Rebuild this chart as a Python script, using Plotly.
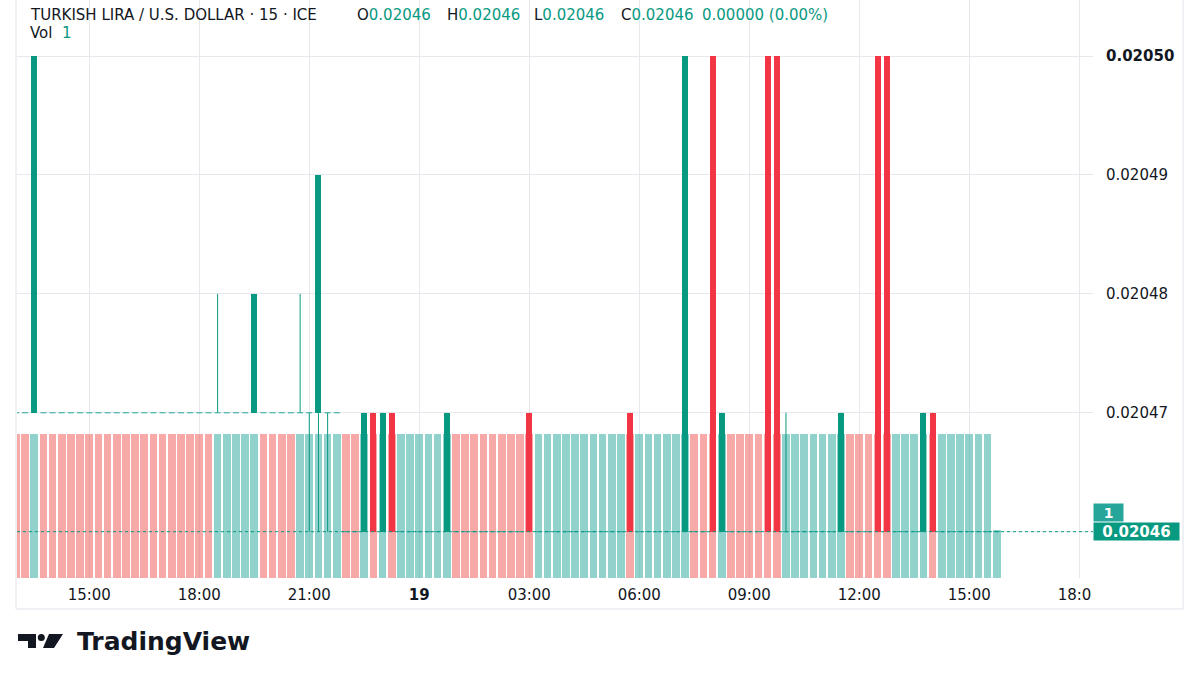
import plotly.graph_objects as go
import pandas as pd

# ---------------- data (15-minute bars, 18 Mar 13:00 -> 19 Mar 15:45) ----------------
start_time = "2024-03-18 13:00"
bar_count = 108

opens = [
    0.02047, 0.02047, 0.02047, 0.02047, 0.02047, 0.02047, 0.02047, 0.02047, 0.02047, 0.02047, 0.02047, 0.02047,  # 13:00-15:45
    0.02047, 0.02047, 0.02047, 0.02047, 0.02047, 0.02047, 0.02047, 0.02047, 0.02047, 0.02047, 0.02047, 0.02047,  # 16:00-18:45
    0.02047, 0.02047, 0.02047, 0.02047, 0.02047, 0.02047, 0.02047, 0.02047, 0.02047, 0.02047, 0.02047, 0.02047,  # 19:00-21:45
    0.02046, 0.02046, 0.02046, 0.02047, 0.02046, 0.02047, 0.02046, 0.02046, 0.02046, 0.02046, 0.02046, 0.02046,  # 22:00-00:45
    0.02046, 0.02046, 0.02046, 0.02046, 0.02046, 0.02046, 0.02046, 0.02046, 0.02047, 0.02046, 0.02046, 0.02046,  # 01:00-03:45
    0.02046, 0.02046, 0.02046, 0.02046, 0.02046, 0.02046, 0.02046, 0.02047, 0.02046, 0.02046, 0.02046, 0.02046,  # 04:00-06:45
    0.02046, 0.02046, 0.02046, 0.02046, 0.02050, 0.02046, 0.02046, 0.02046, 0.02046, 0.02046, 0.02050, 0.02050,  # 07:00-09:45
    0.02046, 0.02046, 0.02046, 0.02046, 0.02046, 0.02046, 0.02046, 0.02046, 0.02046, 0.02046, 0.02050, 0.02050,  # 10:00-12:45
    0.02046, 0.02046, 0.02046, 0.02046, 0.02047, 0.02046, 0.02046, 0.02046, 0.02046, 0.02046, 0.02046, 0.02046,  # 13:00-15:45
]
highs = [
    0.02047, 0.02047, 0.02050, 0.02047, 0.02047, 0.02047, 0.02047, 0.02047, 0.02047, 0.02047, 0.02047, 0.02047,
    0.02047, 0.02047, 0.02047, 0.02047, 0.02047, 0.02047, 0.02047, 0.02047, 0.02047, 0.02047, 0.02048, 0.02047,
    0.02047, 0.02047, 0.02048, 0.02047, 0.02047, 0.02047, 0.02047, 0.02048, 0.02047, 0.02049, 0.02047, 0.02047,
    0.02046, 0.02046, 0.02047, 0.02047, 0.02047, 0.02047, 0.02046, 0.02046, 0.02046, 0.02046, 0.02046, 0.02047,
    0.02046, 0.02046, 0.02046, 0.02046, 0.02046, 0.02046, 0.02046, 0.02046, 0.02047, 0.02046, 0.02046, 0.02046,
    0.02046, 0.02046, 0.02046, 0.02046, 0.02046, 0.02046, 0.02046, 0.02047, 0.02046, 0.02046, 0.02046, 0.02046,
    0.02046, 0.02050, 0.02046, 0.02046, 0.02050, 0.02047, 0.02046, 0.02046, 0.02046, 0.02046, 0.02050, 0.02050,
    0.02047, 0.02046, 0.02046, 0.02046, 0.02046, 0.02046, 0.02047, 0.02046, 0.02046, 0.02046, 0.02050, 0.02050,
    0.02046, 0.02046, 0.02046, 0.02047, 0.02047, 0.02046, 0.02046, 0.02046, 0.02046, 0.02046, 0.02046, 0.02046,
]
lows = [
    0.02047, 0.02047, 0.02047, 0.02047, 0.02047, 0.02047, 0.02047, 0.02047, 0.02047, 0.02047, 0.02047, 0.02047,
    0.02047, 0.02047, 0.02047, 0.02047, 0.02047, 0.02047, 0.02047, 0.02047, 0.02047, 0.02047, 0.02047, 0.02047,
    0.02047, 0.02047, 0.02047, 0.02047, 0.02047, 0.02047, 0.02047, 0.02047, 0.02046, 0.02046, 0.02046, 0.02047,
    0.02046, 0.02046, 0.02046, 0.02046, 0.02046, 0.02046, 0.02046, 0.02046, 0.02046, 0.02046, 0.02046, 0.02046,
    0.02046, 0.02046, 0.02046, 0.02046, 0.02046, 0.02046, 0.02046, 0.02046, 0.02046, 0.02046, 0.02046, 0.02046,
    0.02046, 0.02046, 0.02046, 0.02046, 0.02046, 0.02046, 0.02046, 0.02046, 0.02046, 0.02046, 0.02046, 0.02046,
    0.02046, 0.02046, 0.02046, 0.02046, 0.02046, 0.02046, 0.02046, 0.02046, 0.02046, 0.02046, 0.02046, 0.02046,
    0.02046, 0.02046, 0.02046, 0.02046, 0.02046, 0.02046, 0.02046, 0.02046, 0.02046, 0.02046, 0.02046, 0.02046,
    0.02046, 0.02046, 0.02046, 0.02046, 0.02046, 0.02046, 0.02046, 0.02046, 0.02046, 0.02046, 0.02046, 0.02046,
]
closes = [
    0.02047, 0.02047, 0.02050, 0.02047, 0.02047, 0.02047, 0.02047, 0.02047, 0.02047, 0.02047, 0.02047, 0.02047,
    0.02047, 0.02047, 0.02047, 0.02047, 0.02047, 0.02047, 0.02047, 0.02047, 0.02047, 0.02047, 0.02047, 0.02047,
    0.02047, 0.02047, 0.02048, 0.02047, 0.02047, 0.02047, 0.02047, 0.02047, 0.02047, 0.02049, 0.02047, 0.02047,
    0.02046, 0.02046, 0.02047, 0.02046, 0.02047, 0.02046, 0.02046, 0.02046, 0.02046, 0.02046, 0.02046, 0.02047,
    0.02046, 0.02046, 0.02046, 0.02046, 0.02046, 0.02046, 0.02046, 0.02046, 0.02046, 0.02046, 0.02046, 0.02046,
    0.02046, 0.02046, 0.02046, 0.02046, 0.02046, 0.02046, 0.02046, 0.02046, 0.02046, 0.02046, 0.02046, 0.02046,
    0.02046, 0.02050, 0.02046, 0.02046, 0.02046, 0.02047, 0.02046, 0.02046, 0.02046, 0.02046, 0.02046, 0.02046,
    0.02046, 0.02046, 0.02046, 0.02046, 0.02046, 0.02046, 0.02047, 0.02046, 0.02046, 0.02046, 0.02046, 0.02046,
    0.02046, 0.02046, 0.02046, 0.02047, 0.02046, 0.02046, 0.02046, 0.02046, 0.02046, 0.02046, 0.02046, 0.02046,
]
volumes = [
    3, 3, 3, 3, 3, 3, 3, 3, 3, 3, 3, 3,
    3, 3, 3, 3, 3, 3, 3, 3, 3, 3, 3, 3,
    3, 3, 3, 3, 3, 3, 3, 3, 3, 3, 3, 3,
    3, 3, 3, 3, 3, 3, 3, 3, 3, 3, 3, 3,
    3, 3, 3, 3, 3, 3, 3, 3, 3, 3, 3, 3,
    3, 3, 3, 3, 3, 3, 3, 3, 3, 3, 3, 3,
    3, 3, 3, 3, 3, 3, 3, 3, 3, 3, 3, 3,
    3, 3, 3, 3, 3, 3, 3, 3, 3, 3, 3, 3,
    3, 3, 3, 3, 3, 3, 3, 3, 3, 3, 3, 1,
]
# volume bar direction: u = up (teal), d = down (red)
volume_dir = [
    "d", "d", "u", "d", "d", "d", "d", "d", "d", "d", "d", "d",
    "d", "d", "d", "d", "d", "d", "d", "d", "d", "d", "u", "u",
    "u", "u", "u", "d", "d", "d", "d", "u", "u", "u", "u", "u",
    "d", "d", "u", "d", "u", "d", "u", "u", "u", "u", "u", "u",
    "d", "d", "d", "d", "d", "d", "d", "d", "d", "u", "u", "u",
    "u", "u", "u", "u", "u", "u", "u", "d", "u", "u", "u", "u",
    "u", "u", "d", "d", "d", "u", "d", "d", "d", "d", "d", "d",
    "u", "u", "u", "u", "u", "u", "u", "d", "d", "d", "d", "d",
    "u", "u", "u", "u", "d", "u", "u", "u", "u", "u", "u", "u",
]
price_ticks = [0.02046, 0.02047, 0.02048, 0.02049, 0.02050]
price_tick_text = ["", "0.02047", "0.02048", "0.02049", "<b>0.02050</b>"]
time_ticks = ["2024-03-18 15:00", "2024-03-18 18:00", "2024-03-18 21:00", "2024-03-19 00:00",
              "2024-03-19 03:00", "2024-03-19 06:00", "2024-03-19 09:00", "2024-03-19 12:00",
              "2024-03-19 15:00", "2024-03-19 18:00"]
time_tick_text = ["15:00", "18:00", "21:00", "<b>19</b>", "03:00", "06:00", "09:00", "12:00", "15:00", "18:00"]
last_volume = 1

# ---------------- styling ----------------
UP = "#089981"
DOWN = "#f23645"
DOJI = "#26a69a"
VOL_UP = "rgba(38,166,154,0.5)"
VOL_DOWN = "rgba(239,83,80,0.5)"
GRID = "#e6e8ee"
TXT = "#131722"
FONT = "DejaVu Sans"

times = pd.date_range(start_time, periods=bar_count, freq="15min")
bar_ms = 15 * 60 * 1000
body_w = 0.66 * bar_ms
vol_w = 0.84 * bar_ms
half = pd.Timedelta(milliseconds=body_w / 2)

fig = go.Figure()

# volume (base axis, drawn beneath candles)
fig.add_trace(go.Bar(
    x=times, y=volumes, width=vol_w, yaxis="y",
    marker=dict(color=[VOL_UP if d == "u" else VOL_DOWN for d in volume_dir], line=dict(width=0)),
    hoverinfo="skip", showlegend=False))

# candle bodies
bx, bbase, bh, bc = [], [], [], []
for t, o, c in zip(times, opens, closes):
    if o != c:
        bx.append(t)
        bbase.append(min(o, c))
        bh.append(abs(c - o))
        bc.append(UP if c > o else DOWN)
fig.add_trace(go.Bar(
    x=bx, y=bh, base=bbase, width=body_w, yaxis="y2",
    marker=dict(color=bc, line=dict(width=0)), hoverinfo="skip", showlegend=False))

# wicks
for col in (UP, DOWN):
    wx, wy = [], []
    for t, o, h, l, c in zip(times, opens, highs, lows, closes):
        ccol = DOWN if c < o else UP
        if h != l and ccol == col:
            wx += [t, t, None]
            wy += [l, h, None]
    fig.add_trace(go.Scatter(x=wx, y=wy, mode="lines", yaxis="y2",
                             line=dict(color=col, width=1), hoverinfo="skip", showlegend=False))

# doji candles (open == close) drawn as short horizontal strokes
dx, dy = [], []
for t, o, c in zip(times, opens, closes):
    if o == c:
        dx += [t - half, t + half, None]
        dy += [c, c, None]
fig.add_trace(go.Scatter(x=dx, y=dy, mode="lines", yaxis="y2",
                         line=dict(color=DOJI, width=1), hoverinfo="skip", showlegend=False))

# ---------------- geometry helpers (pixel -> paper) ----------------
L, R, T, B = 17, 1093, 0, 578
def pxx(x):
    return (x - L) / (R - L)
def pxy(y):
    return (B - y) / (B - T)

shapes = []
# last price dotted line
shapes.append(dict(type="line", xref="paper", x0=0, x1=1, yref="y2", y0=closes[-1], y1=closes[-1],
                   line=dict(color=UP, width=1, dash="dot"), layer="above"))
# chart frame
for x0, y0, x1, y1 in [(16, 0, 16, 609), (16, 609, 1183, 609), (1183, 0, 1183, 609)]:
    shapes.append(dict(type="line", xref="paper", yref="paper", x0=pxx(x0), x1=pxx(x1),
                       y0=pxy(y0), y1=pxy(y1), line=dict(color="#e0e3eb", width=1), layer="above"))
# clip of the last time label at the price scale
shapes.append(dict(type="rect", xref="paper", yref="paper", x0=pxx(1092), x1=pxx(1112),
                   y0=pxy(606), y1=pxy(579), fillcolor="white", line=dict(width=0), layer="above"))
# TradingView logo mark
def path(pts):
    return "M " + " L ".join(f"{pxx(a):.5f},{pxy(b):.5f}" for a, b in pts) + " Z"
shapes.append(dict(type="path", xref="paper", yref="paper",
                   path=path([(18, 634), (36, 634), (36, 648), (28, 648), (28, 641), (18, 641)]),
                   fillcolor=TXT, line=dict(width=0), layer="above"))
shapes.append(dict(type="circle", xref="paper", yref="paper", x0=pxx(37.8), x1=pxx(44.8),
                   y0=pxy(641), y1=pxy(634), fillcolor=TXT, line=dict(width=0), layer="above"))
shapes.append(dict(type="path", xref="paper", yref="paper",
                   path=path([(49, 634), (63, 634), (54, 648), (43, 648)]),
                   fillcolor=TXT, line=dict(width=0), layer="above"))

def teal(s):
    return f"<span style='color:{UP}'>{s}</span>"

annotations = []
header = [
    (28, "TURKISH LIRA / U.S. DOLLAR · 15 · ICE"),
    (355, "O" + teal("0.02046")),
    (445, "H" + teal("0.02046")),
    (532, "L" + teal("0.02046")),
    (619, "C" + teal("0.02046")),
    (700, teal("0.00000 (0.00%)")),
]
for x, s in header:
    annotations.append(dict(xref="paper", yref="paper", x=pxx(x), y=pxy(15), text=s, showarrow=False,
                            xanchor="left", yanchor="middle", font=dict(family=FONT, size=15, color=TXT)))
annotations.append(dict(xref="paper", yref="paper", x=pxx(28), y=pxy(33),
                        text="Vol  " + teal(str(last_volume)), showarrow=False,
                        xanchor="left", yanchor="middle", font=dict(family=FONT, size=15, color=TXT)))
# price scale tags
annotations.append(dict(xref="paper", yref="paper", x=pxx(1093), y=pxy(512.5), text=f"<b>{last_volume}</b>",
                        showarrow=False, xanchor="left", yanchor="middle", width=25, height=13, borderpad=2,
                        bgcolor="#26a69a", font=dict(family=FONT, size=14, color="white")))
annotations.append(dict(xref="paper", yref="y2", x=pxx(1093), y=closes[-1], text=f"<b>{closes[-1]:.5f}</b>",
                        showarrow=False, xanchor="left", yanchor="middle", width=81, height=13, borderpad=2,
                        bgcolor=UP, font=dict(family=FONT, size=15, color="white")))
# brand
annotations.append(dict(xref="paper", yref="paper", x=pxx(75), y=pxy(641), text="<b>TradingView</b>",
                        showarrow=False, xanchor="left", yanchor="middle",
                        font=dict(family=FONT, size=25, color=TXT)))

fig.update_layout(
    width=1200, height=675,
    margin=dict(l=L, r=1200 - R, t=T, b=675 - B),
    paper_bgcolor="white", plot_bgcolor="white",
    barmode="overlay", bargap=0,
    showlegend=False,
    xaxis=dict(type="date", range=["2024-03-18 13:01:42", "2024-03-19 18:22:26"],
               tickmode="array", tickvals=time_ticks, ticktext=time_tick_text,
               showgrid=True, gridcolor=GRID, gridwidth=1, zeroline=False, showline=False,
               ticks="", ticklabelstandoff=6, tickfont=dict(family=FONT, size=15, color=TXT),
               fixedrange=True),
    yaxis=dict(range=[0, 12], visible=False, showgrid=False, zeroline=False, fixedrange=True),
    yaxis2=dict(overlaying="y", side="right",
                range=[0.020456106, 0.020504710],
                tickmode="array", tickvals=price_ticks, ticktext=price_tick_text,
                showgrid=True, gridcolor=GRID, gridwidth=1, zeroline=False, showline=False,
                ticks="", ticklabelstandoff=12, tickfont=dict(family=FONT, size=15, color=TXT),
                fixedrange=True),
    shapes=shapes,
    annotations=annotations,
)

fig.write_html("out.html", config={"displayModeBar": False},
               post_script="document.body.style.margin='0px';")
